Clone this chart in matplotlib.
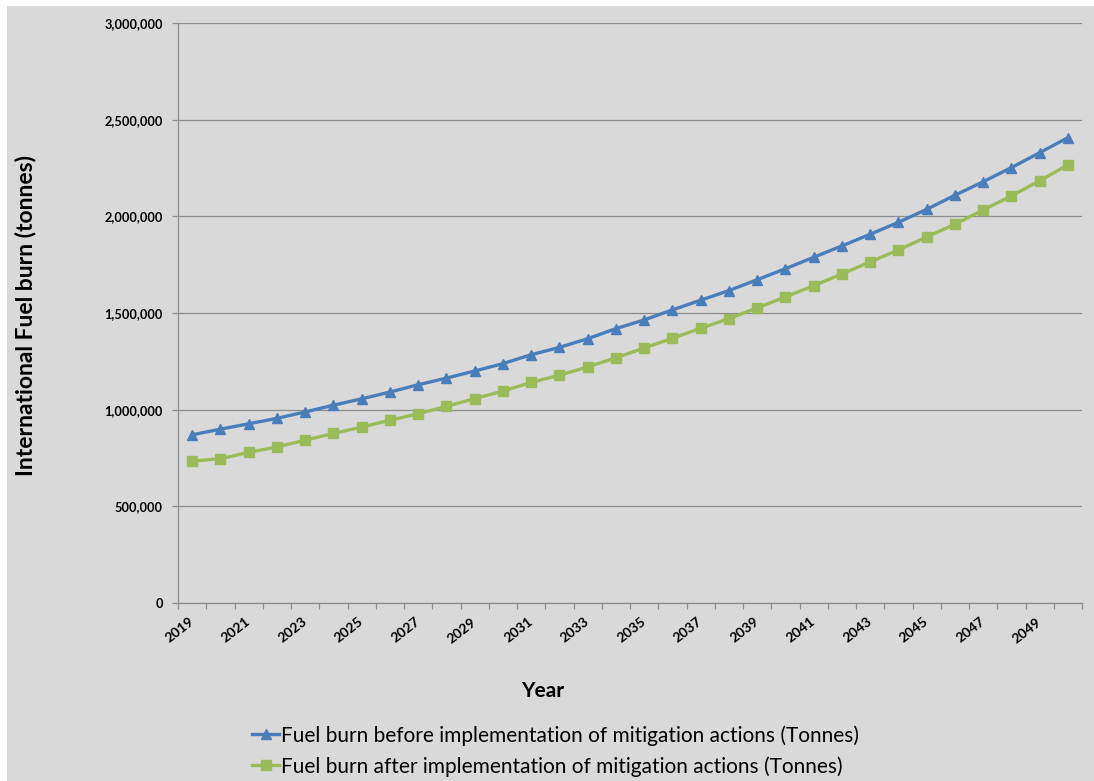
import matplotlib
matplotlib.use("Agg")
import matplotlib.pyplot as plt
from matplotlib.patches import Rectangle
from matplotlib.ticker import FuncFormatter, FixedLocator

plt.rcParams['font.family'] = ['Lato', 'DejaVu Sans']

years = list(range(2019, 2051))
before = [870000, 899000, 927000, 955000, 988000, 1023000, 1056000, 1091000, 1129000, 1163000,
          1200000, 1238000, 1284000, 1322000, 1367000, 1419000, 1464000, 1516000, 1566000, 1616000,
          1672000, 1729000, 1788000, 1847000, 1907000, 1969000, 2036000, 2109000, 2179000, 2252000,
          2329000, 2407000]
after = [734000, 746000, 779000, 807000, 842000, 877000, 910000, 945000, 979000, 1017000,
         1057000, 1096000, 1141000, 1178000, 1221000, 1268000, 1319000, 1369000, 1421000, 1471000,
         1526000, 1583000, 1641000, 1702000, 1764000, 1826000, 1893000, 1959000, 2033000, 2105000,
         2184000, 2266000]
label_before = "Fuel burn before implementation of mitigation actions (Tonnes)"
label_after = "Fuel burn after implementation of mitigation actions (Tonnes)"

W, H = 1094, 781
fig = plt.figure(figsize=(W / 100, H / 100), dpi=100, facecolor='white')
fig.patches.append(Rectangle((7 / W, 0), 1 - 7 / W, 1 - 6 / H, transform=fig.transFigure,
                             facecolor='#d9d9d9', edgecolor='none', zorder=-10))

ax = fig.add_axes([178 / W, 1 - 603 / H, (1082 - 178) / W, (603 - 23) / H])
ax.set_facecolor('#d9d9d9')

xs = list(range(len(years)))
ax.plot(xs, before, color='#4a7ebb', lw=2.4, marker='^', ms=7.5, label=label_before, zorder=3)
ax.plot(xs, after, color='#9bbb59', lw=2.4, marker='s', ms=6.5, label=label_after, zorder=3)

ax.set_xlim(-0.5, len(years) - 0.5)
ax.set_ylim(0, 3000000)
ax.set_yticks(range(0, 3000001, 500000))
ax.yaxis.set_major_formatter(FuncFormatter(lambda v, p: f"{int(v):,}"))
ax.grid(axis='y', color='#8c8c8c', lw=0.9)
ax.set_axisbelow(True)

for s in ['top', 'right']:
    ax.spines[s].set_visible(False)
for s in ['left', 'bottom']:
    ax.spines[s].set_color('#8c8c8c')
    ax.spines[s].set_linewidth(0.9)

ax.set_xticks(xs[::2])
ax.set_xticklabels([str(y) for y in years[::2]])
ax.xaxis.set_minor_locator(FixedLocator([i - 0.5 for i in range(len(years) + 1)]))
ax.tick_params(axis='x', which='major', length=0, pad=12.5, labelsize=10)
ax.tick_params(axis='x', which='minor', length=4, color='#8c8c8c', width=0.9)
ax.tick_params(axis='y', length=4, color='#8c8c8c', width=0.9, pad=7, labelsize=9.2)
for t in ax.get_xticklabels():
    t.set_rotation(38)
    t.set_ha('right')
    t.set_va('center')
    t.set_rotation_mode('anchor')
    t.set_fontweight('bold')
for t in ax.get_yticklabels():
    t.set_fontweight('bold')

fig.text(26 / W, 1 - 315.5 / H, "International Fuel burn (tonnes)", rotation=90,
         ha='center', va='center', fontsize=16.5, fontweight='bold')
fig.text(543 / W, 1 - 691 / H, "Year", ha='center', va='center', fontsize=15, fontweight='bold')

fig.legend(loc='upper left', bbox_to_anchor=(252 / W, 1 - 725 / H), frameon=False,
           fontsize=15, handlelength=1.3, handletextpad=0.1, labelspacing=0.5,
           numpoints=1, borderpad=0, borderaxespad=0)

fig.savefig("out.png", dpi=100, facecolor=fig.get_facecolor())
